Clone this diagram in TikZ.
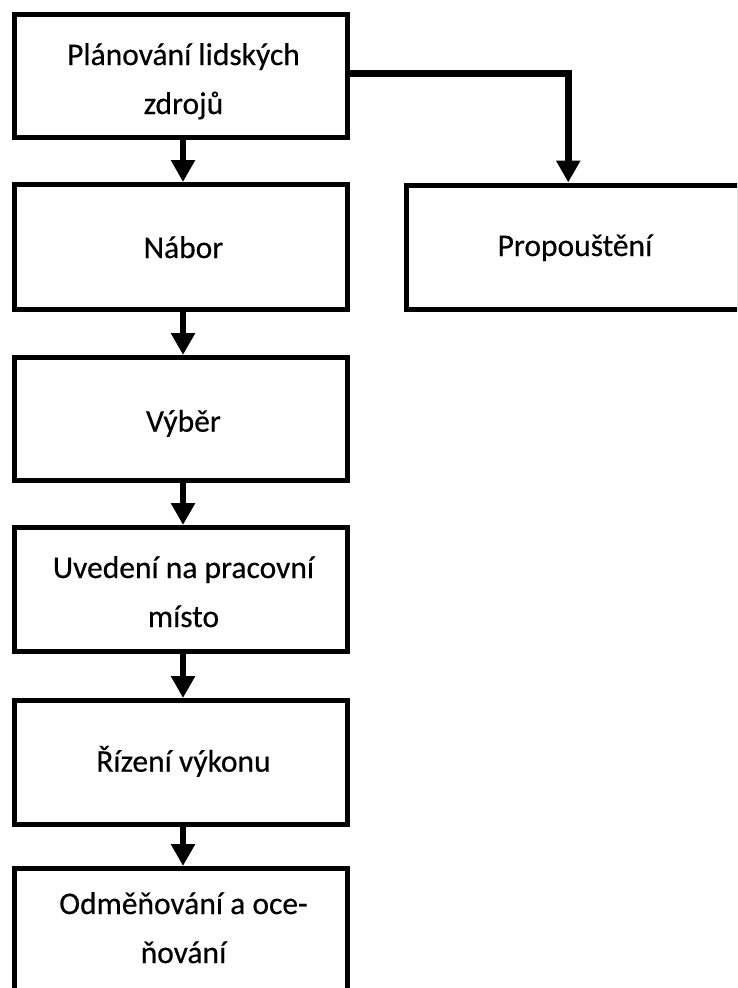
\documentclass[tikz,border=0pt]{standalone}
\usepackage{fontspec}
\setmainfont{Carlito}
\newfontfamily\boxfont[FakeBold=0.4]{Carlito}
\usetikzlibrary{arrows.meta}

\begin{document}
\begin{tikzpicture}[x=1pt, y=-1pt,
  box/.style={draw=black, line width=5pt, fill=white, minimum width=333.5pt, inner sep=0pt},
  label/.style={font=\boxfont\fontsize{31.5}{49}\selectfont, text width=330pt, align=flush center,
                anchor=base, inner sep=0pt},
  flow/.style={draw=black, line width=6pt,
               -{Triangle[width=23pt, length=22pt]}},
  branch/.style={draw=black, line width=7pt, line join=miter,
                 -{Triangle[width=23pt, length=22pt]}}]

  \useasboundingbox (0,0) rectangle (737,988);
  \clip (0,0) rectangle (737,988);
  \fill[white] (0,0) rectangle (737,988);

  % main column of steps
  \node[box, minimum height=123.5pt] (plan)  at (180.75, 75.75) {};
  \node[box, minimum height=124.5pt] (nabor) at (180.75, 246.75) {};
  \node[box, minimum height=123pt]   (vyber) at (180.75, 419) {};
  \node[box, minimum height=124pt]   (uved)  at (180.75, 589.5) {};
  \node[box, minimum height=123.5pt] (rizen) at (180.75, 762.25) {};
  \node[box, minimum height=124pt]   (odmen) at (180.75, 930.5) {};

  % side branch
  \node[box, minimum height=124pt]   (prop)  at (572.75, 247) {};

  % box texts
  \node[label] (tplan)  at (183.5, 65)    {Plánování lidských\\zdrojů};
  \node[label] (tnabor) at (183.5, 258)   {Nábor};
  \node[label] (tvyber) at (183.5, 431.7) {Výběr};
  \node[label] (tuved)  at (183.5, 578)   {Uvedení na pracovní\\místo};
  \node[label] (trizen) at (183.5, 771.7) {Řízení výkonu};
  \node[label] (todmen) at (183.5, 914)   {Odměňování a oce-\\ňování};
  \node[label] (tprop)  at (575, 256)     {Propouštění};

  % connectors
  \draw[flow] ([xshift=2.25pt]plan.south)  -- ([xshift=2.25pt]nabor.north);
  \draw[flow] ([xshift=2.25pt]nabor.south) -- ([xshift=2.25pt]vyber.north);
  \draw[flow] ([xshift=2.25pt]vyber.south) -- ([xshift=2.25pt]uved.north);
  \draw[flow] ([xshift=2.25pt]uved.south)  -- ([xshift=2.25pt]rizen.north);
  \draw[flow] ([xshift=2.25pt]rizen.south) -- ([xshift=2.25pt]odmen.north);
  \draw[branch] ([yshift=2.25pt]plan.east) -| ([xshift=-4.5pt]prop.north);
\end{tikzpicture}
\end{document}
